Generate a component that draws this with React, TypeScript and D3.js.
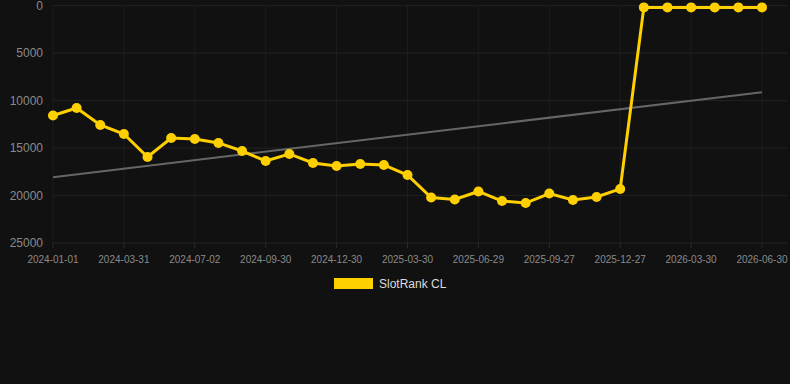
import React from "react";
import * as d3 from "d3";

const dates = [
  "2024-01-01", "2024-02-01", "2024-03-01", "2024-03-31", "2024-05-01", "2024-06-01",
  "2024-07-02", "2024-08-01", "2024-09-01", "2024-09-30", "2024-10-31", "2024-11-30",
  "2024-12-30", "2025-01-30", "2025-02-28", "2025-03-30", "2025-04-30", "2025-05-30",
  "2025-06-29", "2025-07-30", "2025-08-29", "2025-09-27", "2025-10-28", "2025-11-27",
  "2025-12-27", "2026-01-27", "2026-02-27", "2026-03-30", "2026-04-30", "2026-05-30",
  "2026-06-30",
];

const rankValues = [
  11570, 10780, 12570, 13520, 15940, 13940, 14040, 14460, 15310, 16360, 15620, 16570,
  16890, 16680, 16780, 17840, 20210, 20420, 19570, 20580, 20790, 19790, 20470, 20150,
  19310, 180, 180, 180, 180, 180, 180,
];

const yTicks = [0, 5000, 10000, 15000, 20000, 25000];
const seriesName = "SlotRank CL";

const W = 790;
const H = 384;
const left = 53;
const right = 762;
const gridRight = 787;
const top = 5.7;
const bottom = 243;

export default function App() {
  const x = d3.scalePoint<number>().domain(dates.map((_, i) => i)).range([left, right]);
  const y = d3.scaleLinear().domain([0, 25000]).range([top, bottom]);

  const line = d3
    .line<number>()
    .x((_, i) => x(i) as number)
    .y((v) => y(v));

  // linear regression trend
  const n = rankValues.length;
  const mx = d3.mean(rankValues, (_, i) => i) as number;
  const my = d3.mean(rankValues) as number;
  let sxy = 0;
  let sxx = 0;
  rankValues.forEach((v, i) => {
    sxy += (i - mx) * (v - my);
    sxx += (i - mx) * (i - mx);
  });
  const slope = sxy / sxx;
  const intercept = my - slope * mx;
  const trend = [intercept, intercept + slope * (n - 1)];

  const tickIdx = dates.map((_, i) => i).filter((i) => i % 3 === 0);
  const font = "Arial, 'Liberation Sans', sans-serif";

  return (
    <svg
      width={W}
      height={H}
      style={{ position: "absolute", left: 0, top: 0, background: "#111111" }}
    >
      <rect x={0} y={0} width={W} height={H} fill="#111111" />
      {yTicks.map((t) => (
        <g key={t}>
          <line x1={left} x2={gridRight} y1={y(t)} y2={y(t)} stroke="#232323" strokeWidth={1} />
          <text
            x={43}
            y={y(t)}
            dy="0.35em"
            textAnchor="end"
            fill="#8a8a8a"
            fontSize={12}
            fontFamily={font}
          >
            {t}
          </text>
        </g>
      ))}
      {tickIdx.map((i) => (
        <g key={i}>
          <line x1={x(i)} x2={x(i)} y1={top} y2={bottom} stroke="#1d1d1d" strokeWidth={1} />
          <line x1={x(i)} x2={x(i)} y1={bottom} y2={bottom + 5} stroke="#2a2a2a" strokeWidth={1} />
          <text
            x={x(i)}
            y={259}
            dy="0.35em"
            textAnchor="middle"
            fill="#8a8a8a"
            fontSize={10}
            fontFamily={font}
          >
            {dates[i]}
          </text>
        </g>
      ))}
      <line
        x1={x(0)}
        x2={x(n - 1)}
        y1={y(trend[0])}
        y2={y(trend[1])}
        stroke="#666666"
        strokeWidth={2}
      />
      <path d={line(rankValues) || ""} fill="none" stroke="#FFD000" strokeWidth={3} />
      {rankValues.map((v, i) => (
        <circle key={i} cx={x(i)} cy={y(v)} r={5} fill="#FFD000" />
      ))}
      <rect x={334} y={278} width={39} height={11} fill="#FFD000" />
      <text x={379} y={284} dy="0.35em" fill="#dddddd" fontSize={12} fontFamily={font}>
        {seriesName}
      </text>
    </svg>
  );
}
